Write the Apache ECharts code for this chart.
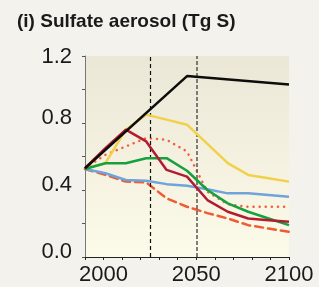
<!DOCTYPE html>
<html>
<head>
<meta charset="utf-8">
<script src="https://cdn.jsdelivr.net/npm/echarts@6/dist/echarts.min.js"></script>
<style>
  html, body { margin: 0; padding: 0; background: #f3f2ed; }
  #chart { width: 319px; height: 287px; }
</style>
</head>
<body>
<div id="chart"></div>
<script>
// points are spread evenly over the plot width in the picture
const years = [1990, 2001, 2012, 2023, 2034, 2045, 2056, 2067, 2078, 2089, 2100]

const blackYears = [1990, 2045, 2100]
const blackValues = [0.53, 1.08, 1.03]
const redValues = [0.53, 0.65, 0.76, 0.69, 0.52, 0.48, 0.34, 0.27, 0.23, 0.22, 0.21]
const dottedValues = [0.53, 0.61, 0.66, 0.71, 0.70, 0.63, 0.39, 0.315, 0.30, 0.30, 0.30]
const yellowValues = [0.53, 0.56, 0.76, 0.85, 0.82, 0.79, 0.675, 0.56, 0.49, 0.47, 0.45]
const greenValues = [0.525, 0.56, 0.56, 0.59, 0.59, 0.515, 0.40, 0.32, 0.27, 0.23, 0.19]
const blueValues = [0.525, 0.50, 0.46, 0.455, 0.435, 0.425, 0.405, 0.38, 0.38, 0.37, 0.36]
const dashedValues = [0.525, 0.49, 0.45, 0.445, 0.35, 0.30, 0.262, 0.23, 0.19, 0.17, 0.15]

const xLabels = [2000, 2050, 2100]
const yLabels = [0, 0.4, 0.8, 1.2]
const markYears = [2025, 2050]

function pairs (xs, vs) {
  let out = []
  for (let i = 0; i < vs.length; i++) {
    out.push([xs[i], vs[i]])
  }
  return out
}

function lineSeries (name, data, color, type, z) {
  return {
    name: name,
    type: 'line',
    data: data,
    showSymbol: false,
    z: z,
    lineStyle: { color: color, width: 2.5, type: type || 'solid', cap: type ? 'round' : 'butt' }
  }
}

let chart = echarts.init(document.getElementById('chart'))
chart.setOption({
  animation: false,
  backgroundColor: '#f3f2ed',
  title: {
    text: '(i) Sulfate aerosol (Tg S)',
    left: 12,
    top: 7,
    textStyle: { fontFamily: 'Liberation Sans', fontWeight: 'bold', fontSize: 19, color: '#1a1a1a' }
  },
  grid: {
    left: 85,
    right: 30,
    top: 56,
    bottom: 30,
    show: true,
    borderWidth: 0,
    backgroundColor: new echarts.graphic.LinearGradient(0, 0, 0, 1, [
      { offset: 0, color: '#ebe7d7' },
      { offset: 1, color: '#fcfae9' }
    ])
  },
  xAxis: {
    type: 'value',
    min: 1990,
    max: 2100,
    interval: 10,
    splitLine: { show: false },
    axisLine: { lineStyle: { color: '#222', width: 1 } },
    axisTick: { length: 3, lineStyle: { color: '#222' } },
    axisLabel: {
      fontFamily: 'Liberation Sans',
      fontSize: 22,
      color: '#1a1a1a',
      margin: 7,
      showMinLabel: true,
      showMaxLabel: true,
      formatter: function (v) {
        return xLabels.indexOf(v) >= 0 ? String(v) : ''
      }
    }
  },
  yAxis: {
    type: 'value',
    min: 0,
    max: 1.2,
    interval: 0.2,
    splitLine: { show: false },
    axisLine: { show: true, lineStyle: { color: '#777', width: 1 } },
    axisTick: { show: true, length: 3, lineStyle: { color: '#555' } },
    axisLabel: {
      fontFamily: 'Liberation Sans',
      fontSize: 22,
      color: '#1a1a1a',
      margin: 13,
      formatter: function (v) {
        for (let i = 0; i < yLabels.length; i++) {
          if (Math.abs(yLabels[i] - v) < 1e-6) {
            // labels below the top one sit a little above their ticks
            return (i === yLabels.length - 1 ? '{top|' : '{up|') + v.toFixed(1) + '}'
          }
        }
        return ''
      },
      rich: {
        top: { fontFamily: 'Liberation Sans', fontSize: 22, color: '#1a1a1a', padding: [2, 0, 0, 0] },
        up: { fontFamily: 'Liberation Sans', fontSize: 22, color: '#1a1a1a', padding: [0, 0, 11, 0] }
      }
    }
  },
  series: [
    Object.assign(lineSeries('dashed', pairs(years, dashedValues), '#ef5b33', [8, 5], 2), {
      markLine: {
        silent: true,
        symbol: 'none',
        label: { show: false },
        data: [
          { xAxis: markYears[0], lineStyle: { color: '#111', width: 1.2, type: [4, 3] } },
          { xAxis: markYears[1], lineStyle: { color: '#555', width: 1.5, type: [4, 2] } }
        ]
      }
    }),
    lineSeries('blue', pairs(years, blueValues), '#6fa3dc', null, 3),
    lineSeries('dotted', pairs(years, dottedValues), '#f0603e', [0.1, 6], 4),
    lineSeries('yellow', pairs(years, yellowValues), '#f2d14a', null, 5),
    lineSeries('green', pairs(years, greenValues), '#16a03e', null, 6),
    lineSeries('red', pairs(years, redValues), '#b31b30', null, 7),
    lineSeries('black', pairs(blackYears, blackValues), '#0d0d0d', null, 8)
  ]
})
</script>
</body>
</html>
